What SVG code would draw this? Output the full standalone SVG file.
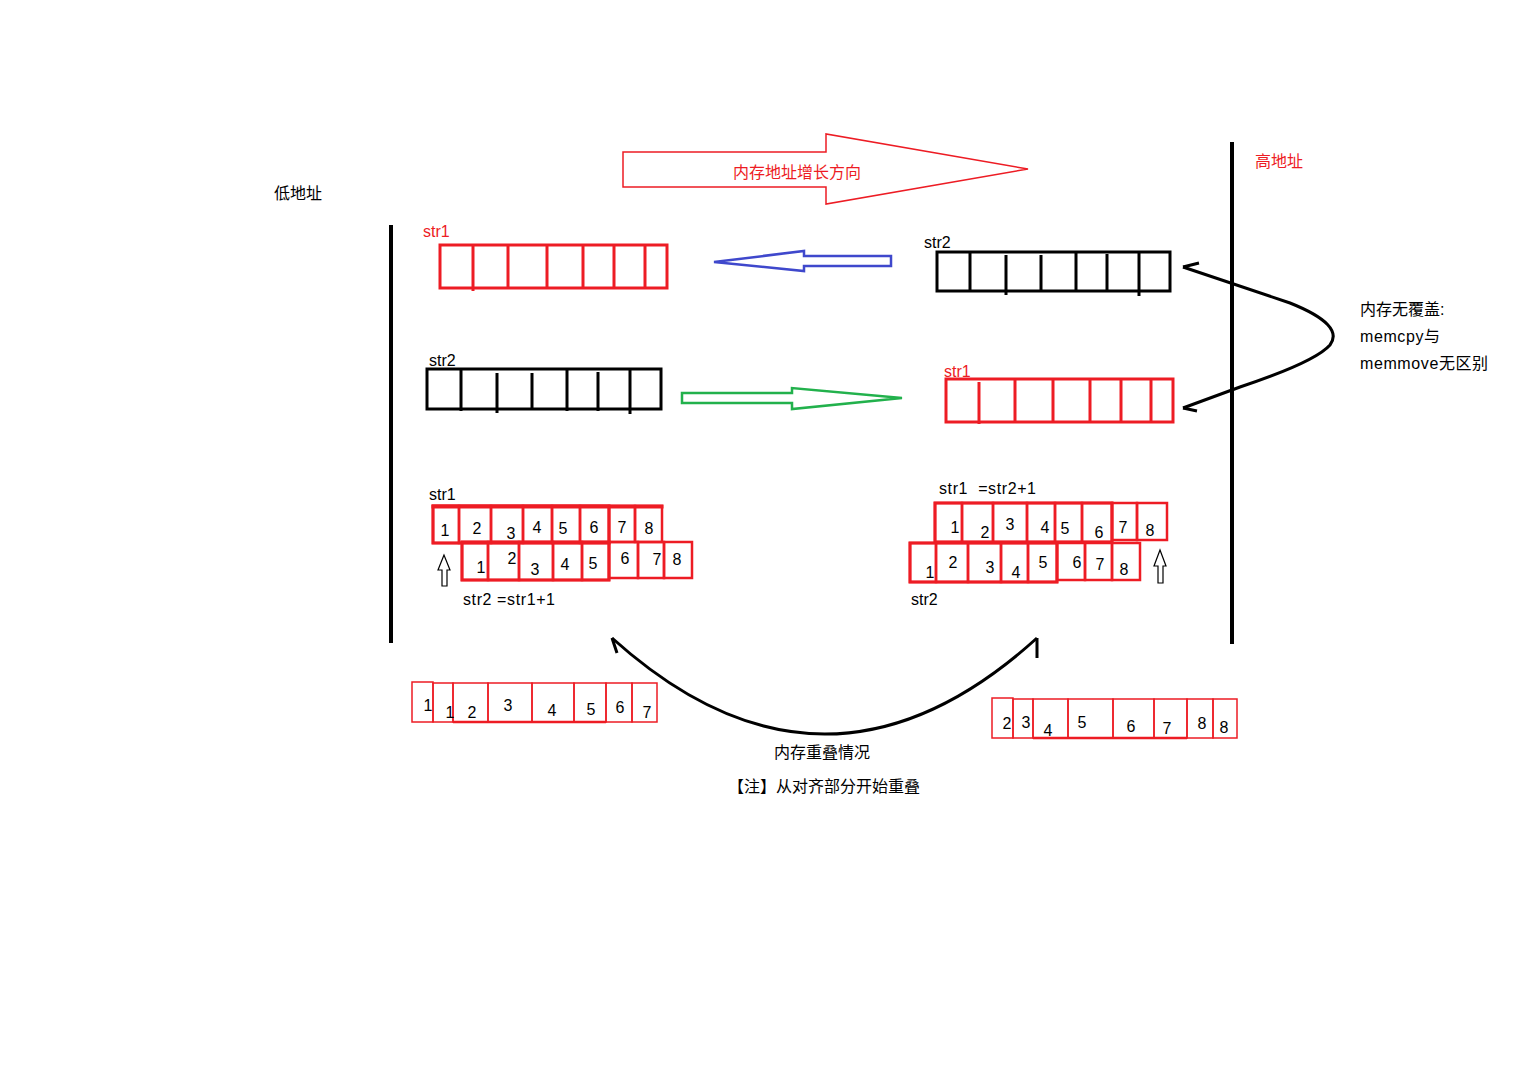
<svg xmlns="http://www.w3.org/2000/svg" width="1524" height="1088" viewBox="0 0 1524 1088">
<style>
text{font-family:"Liberation Sans","Noto Sans CJK SC",sans-serif;font-size:16px;fill:#000}
.r{fill:#ed1c24}
.num{font-size:16px;text-anchor:middle}
.eq{letter-spacing:0.6px}
.rb{fill:none;stroke:#ed1c24;stroke-width:3}
.rc{fill:none;stroke:#ed1c24;stroke-width:2.5}
.rt{fill:none;stroke:#ed1c24;stroke-width:1.5}
.kb{fill:none;stroke:#000;stroke-width:3}
.ln{fill:none;stroke:#000;stroke-width:3}
.bar{stroke:#000;stroke-width:4}
.curve{fill:none;stroke:#000;stroke-width:3}
.up{fill:#fff;stroke:#000;stroke-width:1.2}
</style>
<rect width="1524" height="1088" fill="#fff"/>

<g id="low-address"><text x="274" y="199">低地址</text></g>
<g id="high-address"><text x="1255" y="167" class="r">高地址</text></g>
<g id="bar-left"><line class="bar" x1="391" y1="225" x2="391" y2="643"/></g>
<g id="bar-right"><line class="bar" x1="1232" y1="142" x2="1232" y2="644"/></g>

<g id="growth-arrow">
<polygon points="623,152 826,152 826,134 1028,169 826,204 826,187 623,187" fill="#fff" stroke="#ed1c24" stroke-width="1.5"/>
<text x="797" y="178" class="r" text-anchor="middle">内存地址增长方向</text>
</g>

<g id="str1-top-left">
<text x="423" y="237" class="r">str1</text>
<rect class="rb" x="440" y="245" width="227" height="43"/>
<path class="rb" d="M473,245V291M508,245V288M547,245V288M583,245V288M614,245V288M645,245V288"/>
</g>

<g id="str2-top-right">
<text x="924" y="248">str2</text>
<rect class="kb" x="937" y="252" width="233" height="39"/>
<path class="ln" d="M970,252V292M1006,255V295M1041,255V292M1076,252V292M1107,254V292M1139,252V296"/>
</g>

<g id="str2-mid-left">
<text x="429" y="366">str2</text>
<rect class="kb" x="427" y="369" width="234" height="40"/>
<path class="ln" d="M461,369V411M497,373V413M532,373V410M567,369V411M598,372V411M630,369V414"/>
</g>

<g id="str1-mid-right">
<text x="944" y="377" class="r">str1</text>
<rect class="rb" x="946" y="379" width="227" height="43"/>
<path class="rb" d="M979,382V424M1015,379V422M1053,379V422M1090,379V422M1121,379V422M1151,379V422"/>
</g>

<g id="overlap-left">
<text x="429" y="500">str1</text>
<g>
<rect class="rb" x="433" y="506" width="176" height="37"/>
<rect class="rc" x="433" y="506" width="26" height="37"/>
<rect class="rc" x="459" y="506" width="32" height="37"/>
<rect class="rc" x="491" y="506" width="32" height="37"/>
<rect class="rc" x="523" y="506" width="29" height="37"/>
<rect class="rc" x="552" y="506" width="28" height="37"/>
<rect class="rc" x="580" y="506" width="29" height="37"/>
<rect class="rc" x="609" y="506" width="26" height="36"/>
<rect class="rc" x="635" y="506" width="27" height="36"/>
<rect class="rb" x="433" y="506" width="229" height="1"/>
</g>
<text x="445" y="536" class="num">1</text><text x="477" y="534" class="num">2</text><text x="511" y="539" class="num">3</text><text x="537" y="533" class="num">4</text><text x="563" y="534" class="num">5</text><text x="594" y="533" class="num">6</text><text x="622" y="533" class="num">7</text><text x="649" y="534" class="num">8</text>
<g>
<rect class="rb" x="462" y="542" width="147" height="38"/>
<rect class="rc" x="462" y="542" width="26" height="38"/>
<rect class="rc" x="488" y="542" width="31" height="38"/>
<rect class="rc" x="519" y="542" width="34" height="38"/>
<rect class="rc" x="553" y="542" width="29" height="38"/>
<rect class="rc" x="582" y="542" width="27" height="38"/>
<rect class="rc" x="609" y="542" width="29" height="36"/>
<rect class="rc" x="638" y="542" width="26" height="36"/>
<rect class="rc" x="664" y="542" width="28" height="36"/>
</g>
<text x="481" y="573" class="num">1</text><text x="512" y="564" class="num">2</text><text x="535" y="575" class="num">3</text><text x="565" y="570" class="num">4</text><text x="593" y="569" class="num">5</text><text x="625" y="564" class="num">6</text><text x="657" y="565" class="num">7</text><text x="677" y="565" class="num">8</text>
<polygon class="up" points="444,555 438,570 442,570 442,586 447,586 447,570 450,570"/>
<text x="463" y="605" class="eq">str2 =str1+1</text>
</g>

<g id="overlap-right">
<text x="939" y="494" class="eq" xml:space="preserve">str1  =str2+1</text>
<g>
<rect class="rb" x="935" y="503" width="177" height="39"/>
<rect class="rc" x="935" y="503" width="27" height="39"/>
<rect class="rc" x="962" y="503" width="31" height="39"/>
<rect class="rc" x="993" y="503" width="34" height="39"/>
<rect class="rc" x="1027" y="503" width="28" height="39"/>
<rect class="rc" x="1055" y="503" width="27" height="39"/>
<rect class="rc" x="1082" y="503" width="30" height="39"/>
<rect class="rc" x="1112" y="503" width="25" height="37"/>
<rect class="rc" x="1137" y="503" width="30" height="37"/>
</g>
<text x="955" y="533" class="num">1</text><text x="985" y="538" class="num">2</text><text x="1010" y="530" class="num">3</text><text x="1045" y="533" class="num">4</text><text x="1065" y="534" class="num">5</text><text x="1099" y="538" class="num">6</text><text x="1123" y="533" class="num">7</text><text x="1150" y="536" class="num">8</text>
<g>
<rect class="rb" x="910" y="543" width="147" height="39"/>
<rect class="rc" x="910" y="543" width="26" height="39"/>
<rect class="rc" x="936" y="543" width="32" height="39"/>
<rect class="rc" x="968" y="543" width="33" height="39"/>
<rect class="rc" x="1001" y="543" width="27" height="39"/>
<rect class="rc" x="1028" y="543" width="29" height="39"/>
<rect class="rc" x="1057" y="543" width="28" height="37"/>
<rect class="rc" x="1085" y="543" width="27" height="37"/>
<rect class="rc" x="1112" y="543" width="28" height="37"/>
</g>
<text x="930" y="578" class="num">1</text><text x="953" y="568" class="num">2</text><text x="990" y="573" class="num">3</text><text x="1016" y="578" class="num">4</text><text x="1043" y="568" class="num">5</text><text x="1077" y="568" class="num">6</text><text x="1100" y="570" class="num">7</text><text x="1124" y="575" class="num">8</text>
<polygon class="up" points="1160,550 1154,566 1158,566 1158,583 1163,583 1163,566 1166,566"/>
<text x="911" y="605">str2</text>
</g>

<g id="result-left">
<rect class="rt" x="412" y="682" width="21" height="40"/>
<rect class="rt" x="433" y="683" width="20" height="39"/>
<rect class="rt" x="453" y="683" width="35" height="39"/>
<rect class="rt" x="488" y="683" width="44" height="39"/>
<rect class="rt" x="532" y="683" width="42" height="39"/>
<rect class="rt" x="574" y="683" width="32" height="39"/>
<rect class="rt" x="606" y="683" width="26" height="39"/>
<rect class="rt" x="632" y="683" width="25" height="39"/>
<line x1="453" y1="722" x2="606" y2="722" stroke="#ed1c24" stroke-width="2.5"/>
<text x="428" y="711" class="num">1</text><text x="450" y="718" class="num">1</text><text x="472" y="718" class="num">2</text><text x="508" y="711" class="num">3</text><text x="552" y="716" class="num">4</text><text x="591" y="715" class="num">5</text><text x="620" y="713" class="num">6</text><text x="647" y="718" class="num">7</text>
</g>

<g id="result-right">
<rect class="rt" x="992" y="698" width="21" height="40"/>
<rect class="rt" x="1013" y="699" width="20" height="39"/>
<rect class="rt" x="1033" y="699" width="35" height="39"/>
<rect class="rt" x="1068" y="699" width="45" height="39"/>
<rect class="rt" x="1113" y="699" width="41" height="39"/>
<rect class="rt" x="1154" y="699" width="33" height="39"/>
<rect class="rt" x="1187" y="699" width="26" height="39"/>
<rect class="rt" x="1213" y="699" width="24" height="39"/>
<line x1="1033" y1="738" x2="1187" y2="738" stroke="#ed1c24" stroke-width="2.5"/>
<text x="1007" y="729" class="num">2</text><text x="1026" y="728" class="num">3</text><text x="1048" y="736" class="num">4</text><text x="1082" y="728" class="num">5</text><text x="1131" y="732" class="num">6</text><text x="1167" y="734" class="num">7</text><text x="1202" y="729" class="num">8</text><text x="1224" y="733" class="num">8</text>
</g>

<g id="note-no-overlap">
<text x="1360" y="315">内存无覆盖:</text>
<text x="1360" y="342" class="eq">memcpy与</text>
<text x="1360" y="369" class="eq">memmove无区别</text>
</g>

<g id="note-overlap">
<text x="822" y="758" text-anchor="middle">内存重叠情况</text>
<text x="824" y="792" text-anchor="middle">【注】从对齐部分开始重叠</text>
</g>

<g id="connectors">
<polygon points="891,256 804,256 804,251 714,262 804,271 804,266 891,266" fill="#fff" stroke="#3f48cc" stroke-width="2.5" stroke-linejoin="miter"/>
<polygon points="682,393 792,393 792,388 902,398 792,409 792,403 682,403" fill="#fff" stroke="#22b14c" stroke-width="2.5"/>
<path class="curve" d="M1183,267 L1290,303 Q1345,325 1330,345 Q1315,362 1240,387 L1183,408"/>
<path class="curve" d="M1183,267 L1199,263 M1183,408 L1197,411"/>
<path class="curve" d="M612,638 Q825,830 1037,638"/>
<path class="curve" d="M612,638 L617,653 M1037,638 V658"/>
</g>
</svg>
